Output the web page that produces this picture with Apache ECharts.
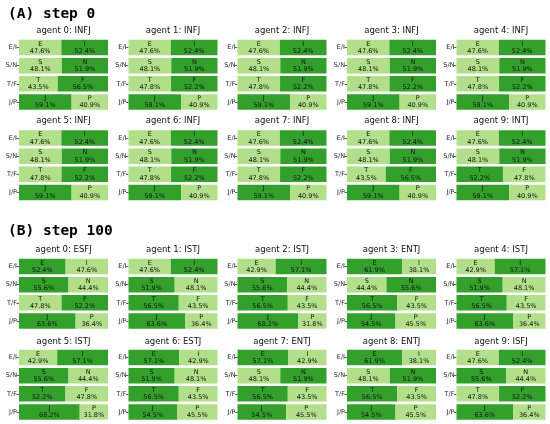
<!DOCTYPE html>
<html><head><meta charset="utf-8">
<script src="https://cdn.jsdelivr.net/npm/echarts@6/dist/echarts.min.js"></script>
<style>html,body{margin:0;padding:0;background:#fff}#c{width:550px;height:424px}</style>
</head><body><div id="c"></div>
<script>
// ---- data ----
const dims = ['E/I', 'S/N', 'T/F', 'J/P'];
const firstLetters = ['E', 'S', 'T', 'J'];
const secondLetters = ['I', 'N', 'F', 'P'];
const stepTitles = ['(A) step 0', '(B) step 100'];

const step0Types = ['INFJ','INFJ','INFJ','INFJ','INFJ','INFJ','INFJ','INFJ','INFJ','INTJ'];
const step0First = [
  [47.6, 48.1, 43.5, 59.1],
  [47.6, 48.1, 47.8, 59.1],
  [47.6, 48.1, 47.8, 59.1],
  [47.6, 48.1, 47.8, 59.1],
  [47.6, 48.1, 47.8, 59.1],
  [47.6, 48.1, 47.8, 59.1],
  [47.6, 48.1, 47.8, 59.1],
  [47.6, 48.1, 47.8, 59.1],
  [47.6, 48.1, 43.5, 59.1],
  [47.6, 48.1, 52.2, 59.1]
];
const step0Second = [
  [52.4, 51.9, 56.5, 40.9],
  [52.4, 51.9, 52.2, 40.9],
  [52.4, 51.9, 52.2, 40.9],
  [52.4, 51.9, 52.2, 40.9],
  [52.4, 51.9, 52.2, 40.9],
  [52.4, 51.9, 52.2, 40.9],
  [52.4, 51.9, 52.2, 40.9],
  [52.4, 51.9, 52.2, 40.9],
  [52.4, 51.9, 56.5, 40.9],
  [52.4, 51.9, 47.8, 40.9]
];

const step100Types = ['ESFJ','ISTJ','ISTJ','ENTJ','ISTJ','ISTJ','ESTJ','ENTJ','ENTJ','ISFJ'];
const step100First = [
  [52.4, 55.6, 47.8, 63.6],
  [47.6, 51.9, 56.5, 63.6],
  [42.9, 55.6, 56.5, 68.2],
  [61.9, 44.4, 56.5, 54.5],
  [42.9, 51.9, 56.5, 63.6],
  [42.9, 55.6, 52.2, 68.2],
  [57.1, 51.9, 56.5, 54.5],
  [57.1, 48.1, 56.5, 54.5],
  [61.9, 48.1, 56.5, 54.5],
  [47.6, 55.6, 47.8, 63.6]
];
const step100Second = [
  [47.6, 44.4, 52.2, 36.4],
  [52.4, 48.1, 43.5, 36.4],
  [57.1, 44.4, 43.5, 31.8],
  [38.1, 55.6, 43.5, 45.5],
  [57.1, 48.1, 43.5, 36.4],
  [57.1, 44.4, 47.8, 31.8],
  [42.9, 48.1, 43.5, 45.5],
  [42.9, 51.9, 43.5, 45.5],
  [38.1, 51.9, 43.5, 45.5],
  [52.4, 44.4, 52.2, 36.4]
];

// ---- layout / style ----
const DARK = '#33a02c', LIGHT = '#b2df8a';
const colLeft = [19, 128.5, 237.5, 347, 456.5];
const gridW = 89, gridH = 72.5;
const rowTops = [38.5, 129, 257.5, 348.5];
const titleY = [31, 121, 250, 342];
const headerY = [15.5, 233];
const FONT = '"DejaVu Sans", sans-serif';

const steps = [
  {types: step0Types, first: step0First, second: step0Second},
  {types: step100Types, first: step100First, second: step100Second}
];

const grids = [], xAxes = [], yAxes = [], series = [], graphics = [];

stepTitles.forEach((t, s) => {
  graphics.push({type: 'text', left: 8, top: headerY[s] - 9,
    style: {text: t, font: 'bold 14.5px "DejaVu Sans Mono", monospace', fill: '#000'}});
});

let p = 0;
steps.forEach((st, s) => {
  for (let a = 0; a < 10; a++) {
    const row = s * 2 + Math.floor(a / 5);
    const col = a % 5;
    const left = colLeft[col], top = rowTops[row];
    grids.push({left: left, top: top, width: gridW, height: gridH, containLabel: false});
    xAxes.push({type: 'value', gridIndex: p, min: 0, max: 100, show: false});
    yAxes.push({type: 'category', gridIndex: p, data: dims, inverse: true,
      axisLine: {show: false},
      axisTick: {show: true, length: 2.5, alignWithLabel: true, lineStyle: {color: '#333', width: 0.8}},
      axisLabel: {fontSize: 6.5, margin: 2, color: '#222', fontFamily: FONT}});
    graphics.push({type: 'text', x: left + gridW / 2, y: titleY[row],
      style: {text: 'agent ' + a + ': ' + st.types[a], font: '8.5px ' + FONT, fill: '#111',
        textAlign: 'center', textVerticalAlign: 'middle'}});
    const f = st.first[a], sc = st.second[a];
    const mk = (vals, other, letters) => ({
      type: 'bar', xAxisIndex: p, yAxisIndex: p, stack: 'p' + p, barWidth: '85%',
      data: vals.map((v, i) => ({value: v, itemStyle: {color: v > other[i] ? DARK : LIGHT}})),
      label: {show: true, position: 'inside', fontSize: 6.5, lineHeight: 7.5, color: '#111',
        fontFamily: FONT,
        formatter: prm => letters[prm.dataIndex] + '\n' + Number(prm.value).toFixed(1) + '%'},
      silent: true, animation: false
    });
    series.push(mk(f, sc, firstLetters));
    series.push(mk(sc, f, secondLetters));
    p++;
  }
});

const chart = echarts.init(document.getElementById('c'), null, {renderer: 'canvas'});
chart.setOption({
  animation: false,
  backgroundColor: '#fff',
  grid: grids, xAxis: xAxes, yAxis: yAxes, series: series,
  graphic: graphics
});
</script></body></html>
